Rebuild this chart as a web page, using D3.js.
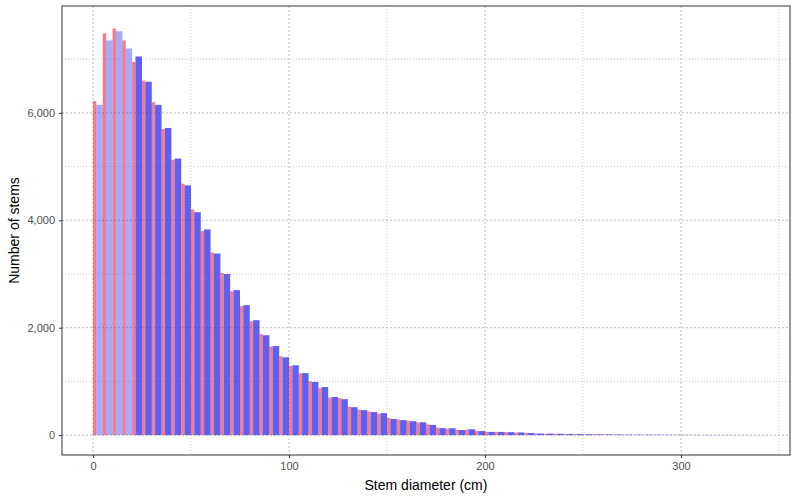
<!DOCTYPE html><html><head><script src="https://cdn.jsdelivr.net/npm/d3@7"></script>
<style>body{margin:0;background:#fff}</style></head><body><svg id="c" width="800" height="500"></svg><script>
const binStarts=d3.range(0,345,5);
const blueVals=[6150,7350,7520,7200,7050,6580,6150,5720,5150,4650,4150,3830,3380,3000,2700,2420,2140,1860,1660,1450,1300,1155,990,895,710,670,520,465,430,410,300,280,260,240,190,130,128,95,110,75,60,60,55,50,40,30,28,25,22,20,18,15,14,12,10,10,9,8,7,6,6,5,5,4,4,3,3,2,2];
const redVals=[6220,7480,7570,7350,6950,6600,6200,5700,5130,4680,4200,3800,3400,3020,2680,2400,2120,1880,1650,1470,1290,1150,1000,880,700,690,530,470,440,400,320,290,270,235,200,140,120,100,105,80,62,58,55,48,42,32,27,24,21,19,17,16,13,11,10,9,8,7,7,6,5,5,4,4,3,3,2,2,2];
const xTicks=[0,100,200,300], yTicks=[0,2000,4000,6000];
const svg=d3.select("#c");
const m={l:62,r:10,t:6,b:45};
const W=800-m.l-m.r,H=500-m.t-m.b;
const g=svg.append("g").attr("transform",`translate(${m.l},${m.t})`);
const x=d3.scaleLinear().domain([-15.8,355.6]).range([0,W]);
const y=d3.scaleLinear().domain([-370,7990]).range([H,0]);
// grid
[50,150,250,350].forEach(v=>g.append("line").attr("x1",x(v)).attr("x2",x(v)).attr("y1",0).attr("y2",H).attr("stroke","#ccc").attr("stroke-dasharray","1,2"));
[1000,3000,5000,7000].forEach(v=>g.append("line").attr("y1",y(v)).attr("y2",y(v)).attr("x1",0).attr("x2",W).attr("stroke","#ccc").attr("stroke-dasharray","1,2"));
xTicks.forEach(v=>g.append("line").attr("x1",x(v)).attr("x2",x(v)).attr("y1",0).attr("y2",H).attr("stroke","#bbb").attr("stroke-dasharray","2,2"));
yTicks.forEach(v=>g.append("line").attr("y1",y(v)).attr("y2",y(v)).attr("x1",0).attr("x2",W).attr("stroke","#bbb").attr("stroke-dasharray","2,2"));
// bars
g.selectAll(".r").data(redVals).join("rect").attr("x",(d,i)=>x(binStarts[i])).attr("width",x(1.7)-x(0))
 .attr("y",d=>y(d)).attr("height",d=>y(0)-y(d)).attr("fill","#e8283c").attr("opacity",0.6);
g.selectAll(".b").data(blueVals).join("rect").attr("x",(d,i)=>x(binStarts[i]+1.7)).attr("width",x(3.3)-x(0))
 .attr("y",d=>y(d)).attr("height",d=>y(0)-y(d)).attr("fill","#2a2af0").attr("opacity",(d,i)=>i<4?0.4:0.75);
g.append("rect").attr("width",W).attr("height",H).attr("fill","none").attr("stroke","#333");
const xa=g.append("g").attr("transform",`translate(0,${H})`).call(d3.axisBottom(x).tickValues(xTicks).tickSize(3).tickPadding(4));
const ya=g.append("g").call(d3.axisLeft(y).tickValues(yTicks).tickSize(3).tickPadding(4));
[xa,ya].forEach(a=>{a.select(".domain").remove();a.selectAll("line").attr("stroke","#333");a.selectAll("text").attr("fill","#4d4d4d").style("font-family","Liberation Sans, Arial").style("font-size","11px");});
svg.append("text").attr("x",m.l+W/2).attr("y",490).attr("text-anchor","middle").style("font-family","Liberation Sans, Arial").style("font-size","14px").text("Stem diameter (cm)");
svg.append("text").attr("transform",`translate(19,${m.t+H/2}) rotate(-90)`).attr("text-anchor","middle").style("font-family","Liberation Sans, Arial").style("font-size","14px").text("Number of stems");
</script></body></html>
